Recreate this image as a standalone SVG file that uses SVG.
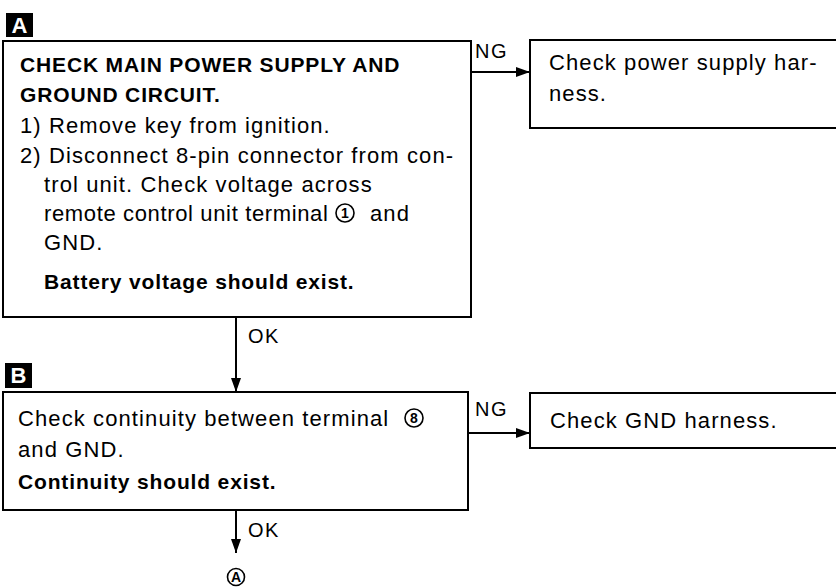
<svg xmlns="http://www.w3.org/2000/svg" width="836" height="587" viewBox="0 0 836 587">
<defs>
<style>
.box{fill:#fff;stroke:#000;stroke-width:2}
.t{font-family:"Liberation Sans",Arial,sans-serif;font-size:22px;letter-spacing:1.1px;fill:#000}
.b{font-family:"Liberation Sans",Arial,sans-serif;font-size:21px;font-weight:bold;letter-spacing:0.85px;fill:#000}
.lab{font-family:"Liberation Sans",Arial,sans-serif;font-size:20px;letter-spacing:1.5px;fill:#000}
.tag{font-family:"Liberation Sans",Arial,sans-serif;font-size:22px;font-weight:bold;fill:#fff}
.circ{fill:none;stroke:#000;stroke-width:1.6}
.cn{font-family:"Liberation Sans",Arial,sans-serif;font-size:14px;font-weight:bold;fill:#000}
.line{fill:none;stroke:#000;stroke-width:2}
</style>
<marker id="arr" viewBox="0 0 14 10" refX="14" refY="5" markerWidth="14" markerHeight="10" markerUnits="userSpaceOnUse" orient="auto">
<path d="M0,0 L14,5 L0,10 Z" fill="#000"/>
</marker>
</defs>

<g id="connectors">
<path class="line" d="M471,72 H530" marker-end="url(#arr)"/>
<text class="lab" x="475" y="58">NG</text>
<path class="line" d="M236,317 V392" marker-end="url(#arr)"/>
<text class="lab" x="248" y="343">OK</text>
<path class="line" d="M468,433 H530" marker-end="url(#arr)"/>
<text class="lab" x="475" y="416">NG</text>
<path class="line" d="M236,510 V553" marker-end="url(#arr)"/>
<text class="lab" x="248" y="537">OK</text>
</g>

<g id="tagA">
<rect x="6" y="13" width="27" height="24" fill="#000"/>
<text class="tag" x="19.5" y="33" text-anchor="middle">A</text>
</g>

<g id="nodeA">
<rect class="box" x="3" y="41" width="468" height="276"/>
<text class="b" x="20" y="72">CHECK MAIN POWER SUPPLY AND</text>
<text class="b" x="20" y="102">GROUND CIRCUIT.</text>
<text class="t" x="20" y="133">1) Remove key from ignition.</text>
<text class="t" x="20" y="163">2) Disconnect 8-pin connector from con-</text>
<text class="t" x="44" y="192">trol unit. Check voltage across</text>
<text class="t" x="44" y="221" textLength="285" lengthAdjust="spacing">remote control unit terminal</text>
<circle class="circ" cx="345" cy="213" r="9"/>
<text class="cn" x="345" y="218" text-anchor="middle">1</text>
<text class="t" x="370" y="221">and</text>
<text class="t" x="44" y="250">GND.</text>
<text class="b" x="44" y="289">Battery voltage should exist.</text>
</g>

<g id="nodeA_NG">
<rect class="box" x="530" y="40" width="310" height="88"/>
<text class="t" x="549" y="70">Check power supply har-</text>
<text class="t" x="549" y="101">ness.</text>
</g>

<g id="tagB">
<rect x="5" y="363" width="27" height="25" fill="#000"/>
<text class="tag" x="18.5" y="383" text-anchor="middle">B</text>
</g>

<g id="nodeB">
<rect class="box" x="3" y="392" width="465" height="118"/>
<text class="t" x="18" y="426">Check continuity between terminal</text>
<circle class="circ" cx="414" cy="418" r="9"/>
<text class="cn" x="414" y="423" text-anchor="middle">8</text>
<text class="t" x="18" y="457">and GND.</text>
<text class="b" x="18" y="489">Continuity should exist.</text>
</g>

<g id="nodeB_NG">
<rect class="box" x="530" y="393" width="310" height="55"/>
<text class="t" x="550" y="428">Check GND harness.</text>
</g>

<g id="refA">
<circle class="circ" cx="236" cy="577" r="8.5"/>
<text class="cn" x="236" y="582" text-anchor="middle">A</text>
</g>
</svg>
